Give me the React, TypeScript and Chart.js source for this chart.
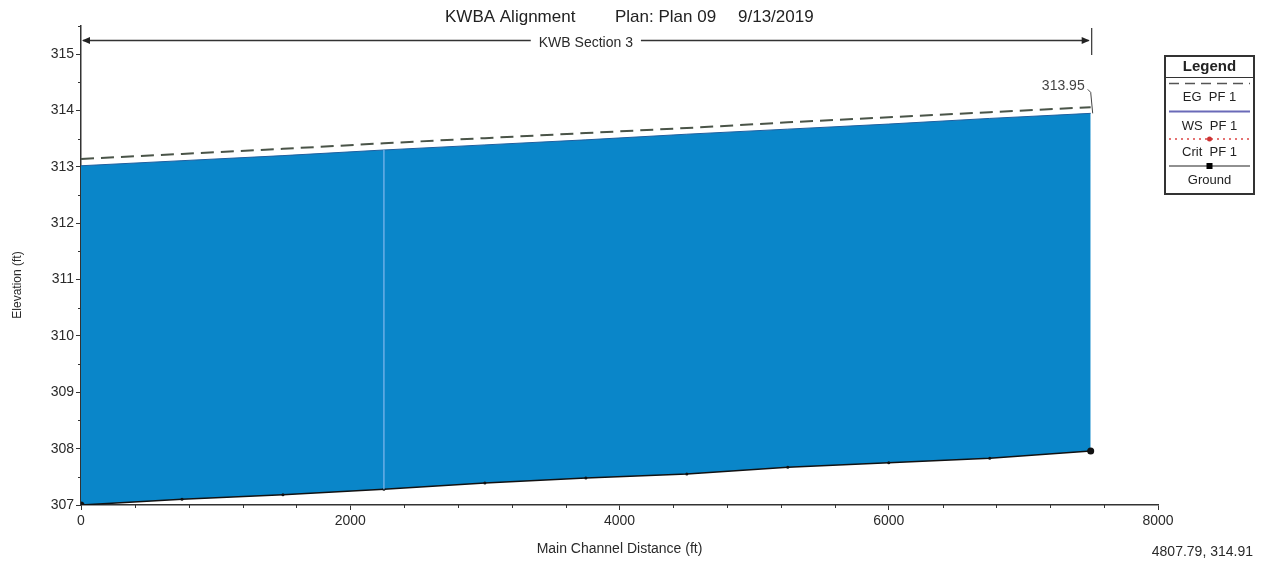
import React, { useEffect, useRef } from "react";
import { Chart, registerables } from "chart.js";

Chart.register(...registerables);

// ---- data ----
const stations = [0, 750, 1500, 2250, 3000, 3750, 4500, 5250, 6000, 6750, 7500];
const groundElev = [307.0, 307.1, 307.18, 307.28, 307.39, 307.48, 307.55, 307.67, 307.75, 307.83, 307.96];
const wsElev = [313.02, 313.11, 313.2, 313.3, 313.39, 313.48, 313.58, 313.67, 313.76, 313.86, 313.95];
const egElev = [313.14, 313.23, 313.32, 313.42, 313.51, 313.6, 313.69, 313.79, 313.88, 313.97, 314.06];
const structureIndex = 3;

const xMin = 0;
const xMax = 8000;
const xStep = 2000;
const xMinorStep = 400;
const yMin = 307;
const yMax = 315.5;
const yStep = 1;
const yMinorStep = 0.5;

const titleParts = ["KWBA Alignment", "Plan: Plan 09", "9/13/2019"];
const reachName = "KWB Section 3";
const reachStart = 0;
const reachEnd = 7500;
const wsEndLabel = "313.95";
const cursorReadout = "4807.79, 314.91";
const xAxisTitle = "Main Channel Distance (ft)";
const yAxisTitle = "Elevation (ft)";
const legendTitle = "Legend";
const legendItems = ["EG  PF 1", "WS  PF 1", "Crit  PF 1", "Ground"];

const FONT = "'Liberation Sans', Arial, sans-serif";
const TEXT = "#2a2a2a";

const decorPlugin = {
  id: "decor",
  afterDraw(chart: any) {
    const ctx = chart.ctx as CanvasRenderingContext2D;
    const xs = chart.scales.x;
    const ys = chart.scales.y;
    const ca = chart.chartArea;
    ctx.save();

    // minor ticks
    ctx.strokeStyle = "#333";
    ctx.lineWidth = 1;
    for (let v = xMin; v <= xMax + 1e-6; v += xMinorStep) {
      if (v % xStep === 0) continue;
      const px = Math.round(xs.getPixelForValue(v)) + 0.5;
      ctx.beginPath();
      ctx.moveTo(px, ca.bottom);
      ctx.lineTo(px, ca.bottom + 3);
      ctx.stroke();
    }
    for (let v = yMin; v <= yMax + 1e-6; v += yMinorStep) {
      if (Math.abs(v - Math.round(v)) < 1e-6) continue;
      const py = Math.round(ys.getPixelForValue(v)) + 0.5;
      ctx.beginPath();
      ctx.moveTo(ca.left, py);
      ctx.lineTo(ca.left - 3, py);
      ctx.stroke();
    }

    // title
    ctx.fillStyle = "#222";
    ctx.font = `17px ${FONT}`;
    ctx.textBaseline = "middle";
    ctx.textAlign = "left";
    ctx.fillText(titleParts[0], 445, 17);
    ctx.fillText(titleParts[1], 615, 17);
    ctx.fillText(titleParts[2], 738, 17);

    // reach line
    const rx0 = xs.getPixelForValue(reachStart);
    const rx1 = xs.getPixelForValue(reachEnd);
    const ry = 40.5;
    const rcx = (rx0 + rx1) / 2;
    ctx.font = `14px ${FONT}`;
    const tw = ctx.measureText(reachName).width;
    ctx.strokeStyle = "#333";
    ctx.lineWidth = 1.5;
    ctx.beginPath();
    ctx.moveTo(rx0 + 2, ry);
    ctx.lineTo(rcx - tw / 2 - 8, ry);
    ctx.moveTo(rcx + tw / 2 + 8, ry);
    ctx.lineTo(rx1 - 2, ry);
    ctx.stroke();
    ctx.fillStyle = "#222";
    ctx.beginPath();
    ctx.moveTo(rx0 + 1, ry);
    ctx.lineTo(rx0 + 9, ry - 3.5);
    ctx.lineTo(rx0 + 9, ry + 3.5);
    ctx.closePath();
    ctx.fill();
    ctx.beginPath();
    ctx.moveTo(rx1 - 1, ry);
    ctx.lineTo(rx1 - 9, ry - 3.5);
    ctx.lineTo(rx1 - 9, ry + 3.5);
    ctx.closePath();
    ctx.fill();
    ctx.lineWidth = 1.2;
    ctx.beginPath();
    ctx.moveTo(rx1 + 1, 28);
    ctx.lineTo(rx1 + 1, 55);
    ctx.stroke();
    ctx.fillStyle = TEXT;
    ctx.textAlign = "center";
    ctx.fillText(reachName, rcx, 43);

    // ws end label with leader
    const ex = xs.getPixelForValue(stations[stations.length - 1]);
    const ey = ys.getPixelForValue(wsElev[wsElev.length - 1]);
    ctx.textAlign = "right";
    ctx.fillStyle = "#444";
    ctx.fillText(wsEndLabel, ex - 6, ey - 27);
    ctx.strokeStyle = "#444";
    ctx.lineWidth = 1;
    ctx.beginPath();
    ctx.moveTo(ex - 3, ey - 24);
    ctx.lineTo(ex, ey - 21);
    ctx.lineTo(ex + 2, ey);
    ctx.stroke();

    // axis titles
    ctx.fillStyle = TEXT;
    ctx.font = `14px ${FONT}`;
    ctx.textAlign = "center";
    ctx.fillText(xAxisTitle, (ca.left + ca.right) / 2, 549);
    ctx.save();
    ctx.translate(18, 285);
    ctx.rotate(-Math.PI / 2);
    ctx.font = `12px ${FONT}`;
    ctx.fillText(yAxisTitle, 0, 0);
    ctx.restore();

    // cursor readout
    ctx.font = `14px ${FONT}`;
    ctx.textAlign = "right";
    ctx.fillText(cursorReadout, 1253, 552);

    // legend
    const lx0 = 1165, lx1 = 1254, ly0 = 56, ly1 = 194;
    const lcx = (lx0 + lx1) / 2;
    ctx.fillStyle = "#fff";
    ctx.fillRect(lx0, ly0, lx1 - lx0, ly1 - ly0);
    ctx.strokeStyle = "#333";
    ctx.lineWidth = 2;
    ctx.strokeRect(lx0, ly0, lx1 - lx0, ly1 - ly0);
    ctx.lineWidth = 1;
    ctx.beginPath();
    ctx.moveTo(lx0, 77.5);
    ctx.lineTo(lx1, 77.5);
    ctx.stroke();
    ctx.fillStyle = "#222";
    ctx.textAlign = "center";
    ctx.font = `bold 15px ${FONT}`;
    ctx.fillText(legendTitle, lcx, 67);
    ctx.font = `13px ${FONT}`;
    const textYs = [97, 126, 152, 180];
    legendItems.forEach((t, i) => ctx.fillText(t, lcx, textYs[i]));
    const sx0 = lx0 + 4, sx1 = lx1 - 4;
    ctx.strokeStyle = "#555";
    ctx.lineWidth = 1.5;
    ctx.setLineDash([10, 6]);
    ctx.beginPath();
    ctx.moveTo(sx0, 83.5);
    ctx.lineTo(sx1, 83.5);
    ctx.stroke();
    ctx.setLineDash([]);
    ctx.strokeStyle = "#6a6ab8";
    ctx.lineWidth = 2;
    ctx.beginPath();
    ctx.moveTo(sx0, 111.5);
    ctx.lineTo(sx1, 111.5);
    ctx.stroke();
    ctx.strokeStyle = "#d44";
    ctx.lineWidth = 1.5;
    ctx.setLineDash([2, 4]);
    ctx.beginPath();
    ctx.moveTo(sx0, 139);
    ctx.lineTo(sx1, 139);
    ctx.stroke();
    ctx.setLineDash([]);
    ctx.fillStyle = "#c33";
    ctx.beginPath();
    ctx.arc(lcx, 139, 2.5, 0, Math.PI * 2);
    ctx.fill();
    ctx.strokeStyle = "#222";
    ctx.lineWidth = 1.2;
    ctx.beginPath();
    ctx.moveTo(sx0, 166);
    ctx.lineTo(sx1, 166);
    ctx.stroke();
    ctx.fillStyle = "#000";
    ctx.fillRect(lcx - 3, 163, 6, 6);

    ctx.restore();
  },
};

export default function App() {
  const ref = useRef<HTMLCanvasElement | null>(null);
  useEffect(() => {
    document.body.style.margin = "0";
    const canvas = ref.current!;
    const pts = (ys: number[]) => stations.map((x, i) => ({ x, y: ys[i] }));
    const chart = new Chart(canvas, {
      type: "line",
      data: {
        datasets: [
          {
            label: "Ground",
            data: pts(groundElev),
            borderColor: "#111",
            borderWidth: 1.5,
            pointRadius: stations.map((_, i) => (i === 0 || i === stations.length - 1 ? 3.5 : 1.5)),
            pointBackgroundColor: "#111",
            pointBorderWidth: 0,
            fill: false,
            order: 2,
          },
          {
            label: "WS PF 1",
            data: pts(wsElev),
            borderColor: "#1f5f9f",
            borderWidth: 1,
            backgroundColor: "#0a86c9",
            pointRadius: 0,
            fill: "-1",
            order: 3,
          },
          {
            label: "Structure",
            data: [
              { x: stations[structureIndex], y: groundElev[structureIndex] },
              { x: stations[structureIndex], y: wsElev[structureIndex] },
            ],
            borderColor: "#6aaee6",
            borderWidth: 1.5,
            pointRadius: 0,
            fill: false,
            order: 1,
          },
          {
            label: "EG PF 1",
            data: pts(egElev),
            borderColor: "#4a5448",
            borderWidth: 2,
            borderDash: [13, 7],
            pointRadius: 0,
            fill: false,
            order: 0,
          },
        ],
      },
      options: {
        animation: false,
        responsive: false,
        maintainAspectRatio: false,
        layout: { padding: { top: 26, right: 104, bottom: 0, left: 0 } },
        plugins: {
          legend: { display: false },
          tooltip: { enabled: false },
          title: { display: false },
        },
        scales: {
          x: {
            type: "linear",
            min: xMin,
            max: xMax,
            ticks: {
              stepSize: xStep,
              color: TEXT,
              font: { family: FONT, size: 14 },
              padding: 3,
              maxRotation: 0,
              callback: (v: any) => String(v),
            },
            grid: { display: true, drawOnChartArea: false, drawTicks: true, tickLength: 5, color: "#333" },
            border: { display: true, color: "#333", width: 1.5 },
            afterFit(scale: any) {
              scale.height = 58;
            },
          },
          y: {
            type: "linear",
            min: yMin,
            max: yMax,
            ticks: {
              stepSize: yStep,
              color: TEXT,
              font: { family: FONT, size: 14 },
              padding: 2,
              callback: (v: any) => String(v),
            },
            afterBuildTicks(scale: any) {
              scale.ticks = scale.ticks.filter((t: any) => Math.abs(t.value - Math.round(t.value)) < 1e-6);
            },
            grid: { display: true, drawOnChartArea: false, drawTicks: true, tickLength: 5, color: "#333" },
            border: { display: true, color: "#333", width: 1.5 },
            afterFit(scale: any) {
              scale.width = 81;
            },
          },
        },
      },
      plugins: [decorPlugin],
    } as any);
    return () => chart.destroy();
  }, []);
  return <canvas ref={ref} width={1262} height={563} style={{ display: "block" }} />;
}
